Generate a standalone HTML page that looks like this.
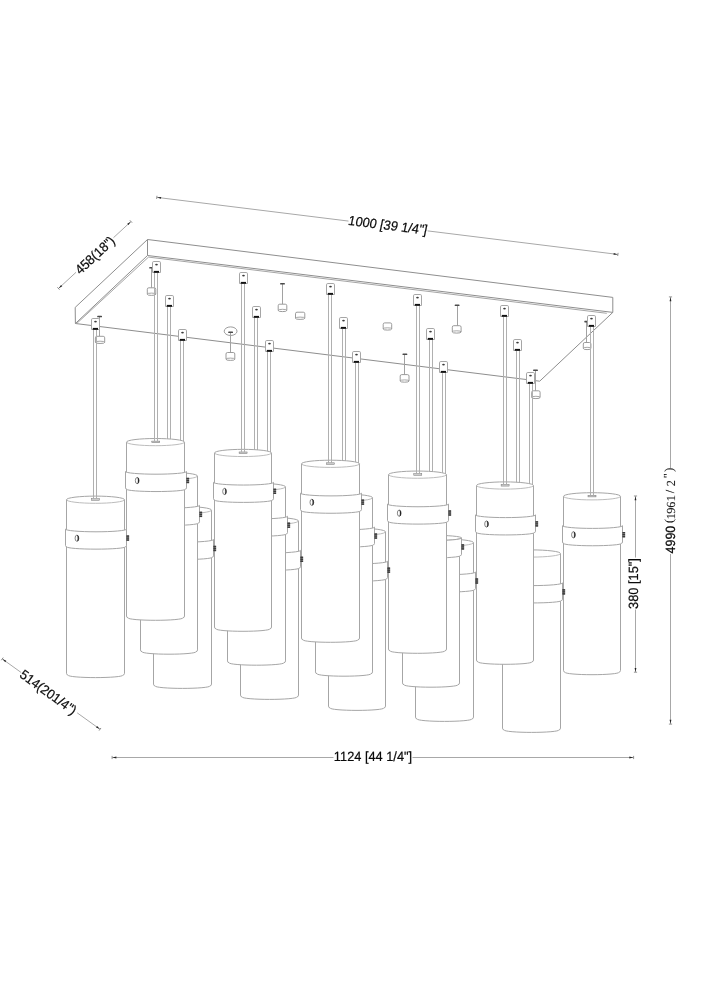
<!DOCTYPE html>
<html lang="en"><head><meta charset="utf-8"><title>Pendant chandelier dimensions</title>
<style>
html,body{margin:0;padding:0;background:#fff;}
body{width:707px;height:1000px;overflow:hidden;font-family:"Liberation Sans",sans-serif;}
svg{display:block;}
.ts{font-family:"Liberation Sans",sans-serif;}
.tf{font-family:"Liberation Serif",serif;}
text{text-rendering:geometricPrecision;}
.txt{opacity:0.999;}
</style></head><body>
<svg width="707" height="1000" viewBox="0 0 707 1000" fill="none" stroke-linecap="butt">
<rect x="0" y="0" width="707" height="1000" fill="#ffffff"/>
<path d="M147.5,239.5 L612.8,297.4 L612.8,312.4 L539.7,381.2 L75.4,323.5 L75.2,307.4 Z" fill="#fff" stroke="#8e8e8e" stroke-width="1" stroke-linejoin="round"/>
<line x1="147.50" y1="239.50" x2="147.50" y2="255.50" stroke="#8e8e8e" stroke-width="1" />
<line x1="147.50" y1="255.50" x2="612.80" y2="312.40" stroke="#8e8e8e" stroke-width="1" />
<line x1="147.50" y1="255.50" x2="75.40" y2="323.50" stroke="#8e8e8e" stroke-width="1" />
<line x1="148.50" y1="257.10" x2="606.80" y2="313.30" stroke="#8e8e8e" stroke-width="0.8" />
<line x1="148.50" y1="257.10" x2="77.00" y2="323.20" stroke="#8e8e8e" stroke-width="0.8" />
<line x1="151.50" y1="267.70" x2="151.50" y2="287.80" stroke="#a2a2a2" stroke-width="1" />
<rect x="149.20" y="266.90" width="4.8" height="1.6" rx="0.6" fill="#4a4a4a"/>
<path d="M147.30,294.25 L147.30,289.30 Q147.30,287.80 148.80,287.80 L154.30,287.80 Q155.80,287.80 155.80,289.30 L155.80,294.25 A4.25,1.15 0 0 1 147.30,294.25 Z" fill="#fff" stroke="#909090" stroke-width="0.9"/>
<path d="M147.30,294.25 A4.25,1.15 0 0 1 155.80,294.25" fill="none" stroke="#909090" stroke-width="0.8"/>
<line x1="99.50" y1="316.50" x2="99.50" y2="336.30" stroke="#a2a2a2" stroke-width="1" />
<rect x="97.20" y="315.70" width="4.8" height="1.6" rx="0.6" fill="#4a4a4a"/>
<path d="M95.40,342.35 L95.40,337.80 Q95.40,336.30 96.90,336.30 L103.20,336.30 Q104.70,336.30 104.70,337.80 L104.70,342.35 A4.65,1.15 0 0 1 95.40,342.35 Z" fill="#fff" stroke="#909090" stroke-width="0.9"/>
<path d="M95.40,342.35 A4.65,1.15 0 0 1 104.70,342.35" fill="none" stroke="#909090" stroke-width="0.8"/>
<ellipse cx="230.60" cy="331.20" rx="6.4" ry="4.3" fill="none" stroke="#909090" stroke-width="0.9"/>
<line x1="230.50" y1="332.20" x2="230.50" y2="352.50" stroke="#a2a2a2" stroke-width="1" />
<rect x="228.20" y="331.40" width="4.8" height="1.6" rx="0.6" fill="#4a4a4a"/>
<path d="M226.00,359.25 L226.00,354.00 Q226.00,352.50 227.50,352.50 L233.30,352.50 Q234.80,352.50 234.80,354.00 L234.80,359.25 A4.40,1.15 0 0 1 226.00,359.25 Z" fill="#fff" stroke="#909090" stroke-width="0.9"/>
<path d="M226.00,359.25 A4.40,1.15 0 0 1 234.80,359.25" fill="none" stroke="#909090" stroke-width="0.8"/>
<line x1="282.50" y1="283.70" x2="282.50" y2="304.20" stroke="#a2a2a2" stroke-width="1" />
<rect x="280.10" y="282.90" width="4.8" height="1.6" rx="0.6" fill="#4a4a4a"/>
<path d="M278.20,310.45 L278.20,305.70 Q278.20,304.20 279.70,304.20 L285.30,304.20 Q286.80,304.20 286.80,305.70 L286.80,310.45 A4.30,1.15 0 0 1 278.20,310.45 Z" fill="#fff" stroke="#909090" stroke-width="0.9"/>
<path d="M278.20,310.45 A4.30,1.15 0 0 1 286.80,310.45" fill="none" stroke="#909090" stroke-width="0.8"/>
<path d="M295.50,318.25 L295.50,313.70 Q295.50,312.20 297.00,312.20 L303.30,312.20 Q304.80,312.20 304.80,313.70 L304.80,318.25 A4.65,1.15 0 0 1 295.50,318.25 Z" fill="#fff" stroke="#909090" stroke-width="0.9"/>
<path d="M295.50,318.25 A4.65,1.15 0 0 1 304.80,318.25" fill="none" stroke="#909090" stroke-width="0.8"/>
<path d="M383.20,328.95 L383.20,324.40 Q383.20,322.90 384.70,322.90 L390.20,322.90 Q391.70,322.90 391.70,324.40 L391.70,328.95 A4.25,1.15 0 0 1 383.20,328.95 Z" fill="#fff" stroke="#909090" stroke-width="0.9"/>
<path d="M383.20,328.95 A4.25,1.15 0 0 1 391.70,328.95" fill="none" stroke="#909090" stroke-width="0.8"/>
<line x1="457.50" y1="305.30" x2="457.50" y2="325.70" stroke="#a2a2a2" stroke-width="1" />
<rect x="454.70" y="304.50" width="4.8" height="1.6" rx="0.6" fill="#4a4a4a"/>
<path d="M452.30,331.95 L452.30,327.20 Q452.30,325.70 453.80,325.70 L459.60,325.70 Q461.10,325.70 461.10,327.20 L461.10,331.95 A4.40,1.15 0 0 1 452.30,331.95 Z" fill="#fff" stroke="#909090" stroke-width="0.9"/>
<path d="M452.30,331.95 A4.40,1.15 0 0 1 461.10,331.95" fill="none" stroke="#909090" stroke-width="0.8"/>
<line x1="404.50" y1="354.20" x2="404.50" y2="374.60" stroke="#a2a2a2" stroke-width="1" />
<rect x="402.50" y="353.40" width="4.8" height="1.6" rx="0.6" fill="#4a4a4a"/>
<path d="M400.20,381.05 L400.20,376.10 Q400.20,374.60 401.70,374.60 L407.50,374.60 Q409.00,374.60 409.00,376.10 L409.00,381.05 A4.40,1.15 0 0 1 400.20,381.05 Z" fill="#fff" stroke="#909090" stroke-width="0.9"/>
<path d="M400.20,381.05 A4.40,1.15 0 0 1 409.00,381.05" fill="none" stroke="#909090" stroke-width="0.8"/>
<line x1="535.50" y1="370.20" x2="535.50" y2="390.80" stroke="#a2a2a2" stroke-width="1" />
<rect x="533.10" y="369.40" width="4.8" height="1.6" rx="0.6" fill="#4a4a4a"/>
<path d="M531.70,397.45 L531.70,392.30 Q531.70,390.80 533.20,390.80 L538.60,390.80 Q540.10,390.80 540.10,392.30 L540.10,397.45 A4.20,1.15 0 0 1 531.70,397.45 Z" fill="#fff" stroke="#909090" stroke-width="0.9"/>
<path d="M531.70,397.45 A4.20,1.15 0 0 1 540.10,397.45" fill="none" stroke="#909090" stroke-width="0.8"/>
<line x1="586.50" y1="321.60" x2="586.50" y2="342.50" stroke="#a2a2a2" stroke-width="1" />
<rect x="584.30" y="320.80" width="4.8" height="1.6" rx="0.6" fill="#4a4a4a"/>
<path d="M583.30,348.45 L583.30,344.00 Q583.30,342.50 584.80,342.50 L589.40,342.50 Q590.90,342.50 590.90,344.00 L590.90,348.45 A3.80,1.15 0 0 1 583.30,348.45 Z" fill="#fff" stroke="#909090" stroke-width="0.9"/>
<path d="M583.30,348.45 A3.80,1.15 0 0 1 590.90,348.45" fill="none" stroke="#909090" stroke-width="0.8"/>
<line x1="154.50" y1="272.50" x2="154.50" y2="441.50" stroke="#b0b0b0" stroke-width="1" />
<line x1="157.50" y1="272.50" x2="157.50" y2="441.50" stroke="#b0b0b0" stroke-width="1" />
<line x1="167.50" y1="306.50" x2="167.50" y2="475.40" stroke="#b0b0b0" stroke-width="1" />
<line x1="170.50" y1="306.50" x2="170.50" y2="475.40" stroke="#b0b0b0" stroke-width="1" />
<line x1="180.50" y1="340.30" x2="180.50" y2="509.50" stroke="#b0b0b0" stroke-width="1" />
<line x1="183.50" y1="340.30" x2="183.50" y2="509.50" stroke="#b0b0b0" stroke-width="1" />
<line x1="241.50" y1="283.45" x2="241.50" y2="452.35" stroke="#b0b0b0" stroke-width="1" />
<line x1="244.50" y1="283.45" x2="244.50" y2="452.35" stroke="#b0b0b0" stroke-width="1" />
<line x1="254.50" y1="317.45" x2="254.50" y2="486.25" stroke="#b0b0b0" stroke-width="1" />
<line x1="257.50" y1="317.45" x2="257.50" y2="486.25" stroke="#b0b0b0" stroke-width="1" />
<line x1="267.50" y1="351.25" x2="267.50" y2="520.35" stroke="#b0b0b0" stroke-width="1" />
<line x1="270.50" y1="351.25" x2="270.50" y2="520.35" stroke="#b0b0b0" stroke-width="1" />
<line x1="328.50" y1="294.40" x2="328.50" y2="463.20" stroke="#b0b0b0" stroke-width="1" />
<line x1="331.50" y1="294.40" x2="331.50" y2="463.20" stroke="#b0b0b0" stroke-width="1" />
<line x1="342.50" y1="328.40" x2="342.50" y2="497.10" stroke="#b0b0b0" stroke-width="1" />
<line x1="345.50" y1="328.40" x2="345.50" y2="497.10" stroke="#b0b0b0" stroke-width="1" />
<line x1="355.50" y1="362.20" x2="355.50" y2="531.20" stroke="#b0b0b0" stroke-width="1" />
<line x1="358.50" y1="362.20" x2="358.50" y2="531.20" stroke="#b0b0b0" stroke-width="1" />
<line x1="416.50" y1="305.35" x2="416.50" y2="474.05" stroke="#b0b0b0" stroke-width="1" />
<line x1="419.50" y1="305.35" x2="419.50" y2="474.05" stroke="#b0b0b0" stroke-width="1" />
<line x1="429.50" y1="339.35" x2="429.50" y2="507.95" stroke="#b0b0b0" stroke-width="1" />
<line x1="432.50" y1="339.35" x2="432.50" y2="507.95" stroke="#b0b0b0" stroke-width="1" />
<line x1="442.50" y1="373.15" x2="442.50" y2="542.05" stroke="#b0b0b0" stroke-width="1" />
<line x1="445.50" y1="373.15" x2="445.50" y2="542.05" stroke="#b0b0b0" stroke-width="1" />
<line x1="503.50" y1="316.30" x2="503.50" y2="484.90" stroke="#b0b0b0" stroke-width="1" />
<line x1="506.50" y1="316.30" x2="506.50" y2="484.90" stroke="#b0b0b0" stroke-width="1" />
<line x1="516.50" y1="350.30" x2="516.50" y2="518.80" stroke="#b0b0b0" stroke-width="1" />
<line x1="519.50" y1="350.30" x2="519.50" y2="518.80" stroke="#b0b0b0" stroke-width="1" />
<line x1="529.50" y1="384.10" x2="529.50" y2="552.90" stroke="#b0b0b0" stroke-width="1" />
<line x1="532.50" y1="384.10" x2="532.50" y2="552.90" stroke="#b0b0b0" stroke-width="1" />
<line x1="93.50" y1="329.50" x2="93.50" y2="499.10" stroke="#b0b0b0" stroke-width="1" />
<line x1="96.50" y1="329.50" x2="96.50" y2="499.10" stroke="#b0b0b0" stroke-width="1" />
<line x1="590.50" y1="326.70" x2="590.50" y2="495.70" stroke="#b0b0b0" stroke-width="1" />
<line x1="593.50" y1="326.70" x2="593.50" y2="495.70" stroke="#b0b0b0" stroke-width="1" />
<path d="M152.50,272.50 L152.50,262.80 Q152.50,261.50 153.80,261.50 L159.20,261.50 Q160.50,261.50 160.50,262.80 L160.50,272.50 Z" fill="#fff" stroke="#a6a6a6" stroke-width="1"/>
<ellipse cx="156.50" cy="264.60" rx="1.35" ry="0.95" fill="#3a3a3a"/>
<rect x="153.80" y="270.90" width="5.2" height="1.9" fill="#111"/>
<path d="M165.50,306.50 L165.50,296.80 Q165.50,295.50 166.80,295.50 L172.20,295.50 Q173.50,295.50 173.50,296.80 L173.50,306.50 Z" fill="#fff" stroke="#a6a6a6" stroke-width="1"/>
<ellipse cx="169.50" cy="298.60" rx="1.35" ry="0.95" fill="#3a3a3a"/>
<rect x="166.80" y="304.90" width="5.2" height="1.9" fill="#111"/>
<path d="M178.50,340.50 L178.50,330.80 Q178.50,329.50 179.80,329.50 L185.20,329.50 Q186.50,329.50 186.50,330.80 L186.50,340.50 Z" fill="#fff" stroke="#a6a6a6" stroke-width="1"/>
<ellipse cx="182.50" cy="332.60" rx="1.35" ry="0.95" fill="#3a3a3a"/>
<rect x="179.80" y="338.90" width="5.2" height="1.9" fill="#111"/>
<path d="M239.50,283.50 L239.50,273.80 Q239.50,272.50 240.80,272.50 L246.20,272.50 Q247.50,272.50 247.50,273.80 L247.50,283.50 Z" fill="#fff" stroke="#a6a6a6" stroke-width="1"/>
<ellipse cx="243.50" cy="275.60" rx="1.35" ry="0.95" fill="#3a3a3a"/>
<rect x="240.80" y="281.90" width="5.2" height="1.9" fill="#111"/>
<path d="M252.50,317.50 L252.50,307.80 Q252.50,306.50 253.80,306.50 L259.20,306.50 Q260.50,306.50 260.50,307.80 L260.50,317.50 Z" fill="#fff" stroke="#a6a6a6" stroke-width="1"/>
<ellipse cx="256.50" cy="309.60" rx="1.35" ry="0.95" fill="#3a3a3a"/>
<rect x="253.80" y="315.90" width="5.2" height="1.9" fill="#111"/>
<path d="M265.50,351.50 L265.50,341.80 Q265.50,340.50 266.80,340.50 L272.20,340.50 Q273.50,340.50 273.50,341.80 L273.50,351.50 Z" fill="#fff" stroke="#a6a6a6" stroke-width="1"/>
<ellipse cx="269.50" cy="343.60" rx="1.35" ry="0.95" fill="#3a3a3a"/>
<rect x="266.80" y="349.90" width="5.2" height="1.9" fill="#111"/>
<path d="M326.50,294.50 L326.50,284.80 Q326.50,283.50 327.80,283.50 L333.20,283.50 Q334.50,283.50 334.50,284.80 L334.50,294.50 Z" fill="#fff" stroke="#a6a6a6" stroke-width="1"/>
<ellipse cx="330.50" cy="286.60" rx="1.35" ry="0.95" fill="#3a3a3a"/>
<rect x="327.80" y="292.90" width="5.2" height="1.9" fill="#111"/>
<path d="M339.50,328.50 L339.50,318.80 Q339.50,317.50 340.80,317.50 L346.20,317.50 Q347.50,317.50 347.50,318.80 L347.50,328.50 Z" fill="#fff" stroke="#a6a6a6" stroke-width="1"/>
<ellipse cx="343.50" cy="320.60" rx="1.35" ry="0.95" fill="#3a3a3a"/>
<rect x="340.80" y="326.90" width="5.2" height="1.9" fill="#111"/>
<path d="M352.50,362.50 L352.50,352.80 Q352.50,351.50 353.80,351.50 L359.20,351.50 Q360.50,351.50 360.50,352.80 L360.50,362.50 Z" fill="#fff" stroke="#a6a6a6" stroke-width="1"/>
<ellipse cx="356.50" cy="354.60" rx="1.35" ry="0.95" fill="#3a3a3a"/>
<rect x="353.80" y="360.90" width="5.2" height="1.9" fill="#111"/>
<path d="M413.50,305.50 L413.50,295.80 Q413.50,294.50 414.80,294.50 L420.20,294.50 Q421.50,294.50 421.50,295.80 L421.50,305.50 Z" fill="#fff" stroke="#a6a6a6" stroke-width="1"/>
<ellipse cx="417.50" cy="297.60" rx="1.35" ry="0.95" fill="#3a3a3a"/>
<rect x="414.80" y="303.90" width="5.2" height="1.9" fill="#111"/>
<path d="M426.50,339.50 L426.50,329.80 Q426.50,328.50 427.80,328.50 L433.20,328.50 Q434.50,328.50 434.50,329.80 L434.50,339.50 Z" fill="#fff" stroke="#a6a6a6" stroke-width="1"/>
<ellipse cx="430.50" cy="331.60" rx="1.35" ry="0.95" fill="#3a3a3a"/>
<rect x="427.80" y="337.90" width="5.2" height="1.9" fill="#111"/>
<path d="M439.50,372.50 L439.50,362.80 Q439.50,361.50 440.80,361.50 L446.20,361.50 Q447.50,361.50 447.50,362.80 L447.50,372.50 Z" fill="#fff" stroke="#a6a6a6" stroke-width="1"/>
<ellipse cx="443.50" cy="364.60" rx="1.35" ry="0.95" fill="#3a3a3a"/>
<rect x="440.80" y="370.90" width="5.2" height="1.9" fill="#111"/>
<path d="M500.50,316.50 L500.50,306.80 Q500.50,305.50 501.80,305.50 L507.20,305.50 Q508.50,305.50 508.50,306.80 L508.50,316.50 Z" fill="#fff" stroke="#a6a6a6" stroke-width="1"/>
<ellipse cx="504.50" cy="308.60" rx="1.35" ry="0.95" fill="#3a3a3a"/>
<rect x="501.80" y="314.90" width="5.2" height="1.9" fill="#111"/>
<path d="M513.50,350.50 L513.50,340.80 Q513.50,339.50 514.80,339.50 L520.20,339.50 Q521.50,339.50 521.50,340.80 L521.50,350.50 Z" fill="#fff" stroke="#a6a6a6" stroke-width="1"/>
<ellipse cx="517.50" cy="342.60" rx="1.35" ry="0.95" fill="#3a3a3a"/>
<rect x="514.80" y="348.90" width="5.2" height="1.9" fill="#111"/>
<path d="M526.50,383.50 L526.50,373.80 Q526.50,372.50 527.80,372.50 L533.20,372.50 Q534.50,372.50 534.50,373.80 L534.50,383.50 Z" fill="#fff" stroke="#a6a6a6" stroke-width="1"/>
<ellipse cx="530.50" cy="375.60" rx="1.35" ry="0.95" fill="#3a3a3a"/>
<rect x="527.80" y="381.90" width="5.2" height="1.9" fill="#111"/>
<path d="M91.50,329.50 L91.50,319.80 Q91.50,318.50 92.80,318.50 L98.20,318.50 Q99.50,318.50 99.50,319.80 L99.50,329.50 Z" fill="#fff" stroke="#a6a6a6" stroke-width="1"/>
<ellipse cx="95.50" cy="321.60" rx="1.35" ry="0.95" fill="#3a3a3a"/>
<rect x="92.80" y="327.90" width="5.2" height="1.9" fill="#111"/>
<path d="M587.50,326.50 L587.50,316.80 Q587.50,315.50 588.80,315.50 L594.20,315.50 Q595.50,315.50 595.50,316.80 L595.50,326.50 Z" fill="#fff" stroke="#a6a6a6" stroke-width="1"/>
<ellipse cx="591.50" cy="318.60" rx="1.35" ry="0.95" fill="#3a3a3a"/>
<rect x="588.80" y="324.90" width="5.2" height="1.9" fill="#111"/>
<path d="M563.50,496.30 A28.50,3.6 0 0 1 620.50,496.30 L620.50,670.40 Q620.50,672.00 618.90,672.30 A26.90,2.4 0 0 1 565.10,672.30 Q563.50,672.00 563.50,670.40 Z" fill="#fff" stroke="#a6a6a6" stroke-width="1"/>
<path d="M563.50,496.30 A28.50,3.6 0 0 0 620.50,496.30" fill="none" stroke="#b4b4b4" stroke-width="0.9"/>
<rect x="588.00" y="495.30" width="8" height="1.6" fill="#ccc" stroke="#777" stroke-width="0.5"/>
<path d="M562.50,525.70 A30.00,2.7 0 0 0 622.50,525.70 L622.50,542.10 Q622.50,543.30 621.20,543.45 A28.70,2.3 0 0 1 563.80,543.45 Q562.50,543.30 562.50,542.10 Z" fill="#fff" stroke="#a6a6a6" stroke-width="1"/>
<ellipse cx="573.40" cy="534.80" rx="1.8" ry="3.1" fill="#fff" stroke="#555" stroke-width="0.7"/>
<path d="M573.60,531.80 A1.7,3.0 0 0 1 573.60,537.80 A0.7,3.0 0 0 0 573.60,531.80 Z" fill="#222" stroke="#222" stroke-width="0.3"/>
<rect x="622.50" y="532.00" width="2.6" height="1.45" fill="#1c1c1c"/>
<rect x="622.50" y="533.95" width="2.6" height="1.45" fill="#1c1c1c"/>
<rect x="622.50" y="535.90" width="2.6" height="1.45" fill="#1c1c1c"/>
<rect x="622.50" y="532.00" width="2.6" height="5.35" fill="#555" fill-opacity="0.55"/>
<line x1="590.50" y1="492.20" x2="590.50" y2="495.50" stroke="#b0b0b0" stroke-width="1" />
<line x1="593.50" y1="492.20" x2="593.50" y2="495.50" stroke="#b0b0b0" stroke-width="1" />
<path d="M502.50,553.50 A29.00,3.6 0 0 1 560.50,553.50 L560.50,728.10 Q560.50,729.70 558.90,730.00 A27.40,2.4 0 0 1 504.10,730.00 Q502.50,729.70 502.50,728.10 Z" fill="#fff" stroke="#a6a6a6" stroke-width="1"/>
<path d="M502.50,553.50 A29.00,3.6 0 0 0 560.50,553.50" fill="none" stroke="#b4b4b4" stroke-width="0.9"/>
<path d="M501.50,582.90 A30.50,2.7 0 0 0 562.50,582.90 L562.50,599.30 Q562.50,600.50 561.20,600.65 A29.20,2.3 0 0 1 502.80,600.65 Q501.50,600.50 501.50,599.30 Z" fill="#fff" stroke="#a6a6a6" stroke-width="1"/>
<ellipse cx="513.01" cy="592.00" rx="1.8" ry="3.1" fill="#fff" stroke="#555" stroke-width="0.7"/>
<path d="M513.21,589.00 A1.7,3.0 0 0 1 513.21,595.00 A0.7,3.0 0 0 0 513.21,589.00 Z" fill="#222" stroke="#222" stroke-width="0.3"/>
<rect x="562.50" y="589.20" width="2.6" height="1.45" fill="#1c1c1c"/>
<rect x="562.50" y="591.15" width="2.6" height="1.45" fill="#1c1c1c"/>
<rect x="562.50" y="593.10" width="2.6" height="1.45" fill="#1c1c1c"/>
<rect x="562.50" y="589.20" width="2.6" height="5.35" fill="#555" fill-opacity="0.55"/>
<path d="M476.50,485.50 A28.50,3.6 0 0 1 533.50,485.50 L533.50,660.00 Q533.50,661.60 531.90,661.90 A26.90,2.4 0 0 1 478.10,661.90 Q476.50,661.60 476.50,660.00 Z" fill="#fff" stroke="#a6a6a6" stroke-width="1"/>
<path d="M476.50,485.50 A28.50,3.6 0 0 0 533.50,485.50" fill="none" stroke="#b4b4b4" stroke-width="0.9"/>
<rect x="501.11" y="484.50" width="8" height="1.6" fill="#ccc" stroke="#777" stroke-width="0.5"/>
<path d="M475.50,514.90 A30.00,2.7 0 0 0 535.50,514.90 L535.50,531.30 Q535.50,532.50 534.20,532.65 A28.70,2.3 0 0 1 476.80,532.65 Q475.50,532.50 475.50,531.30 Z" fill="#fff" stroke="#a6a6a6" stroke-width="1"/>
<ellipse cx="486.51" cy="524.00" rx="1.8" ry="3.1" fill="#fff" stroke="#555" stroke-width="0.7"/>
<path d="M486.71,521.00 A1.7,3.0 0 0 1 486.71,527.00 A0.7,3.0 0 0 0 486.71,521.00 Z" fill="#222" stroke="#222" stroke-width="0.3"/>
<rect x="535.50" y="521.20" width="2.6" height="1.45" fill="#1c1c1c"/>
<rect x="535.50" y="523.15" width="2.6" height="1.45" fill="#1c1c1c"/>
<rect x="535.50" y="525.10" width="2.6" height="1.45" fill="#1c1c1c"/>
<rect x="535.50" y="521.20" width="2.6" height="5.35" fill="#555" fill-opacity="0.55"/>
<line x1="503.50" y1="481.40" x2="503.50" y2="484.70" stroke="#b0b0b0" stroke-width="1" />
<line x1="506.50" y1="481.40" x2="506.50" y2="484.70" stroke="#b0b0b0" stroke-width="1" />
<path d="M415.50,542.65 A29.00,3.6 0 0 1 473.50,542.65 L473.50,717.10 Q473.50,718.70 471.90,719.00 A27.40,2.4 0 0 1 417.10,719.00 Q415.50,718.70 415.50,717.10 Z" fill="#fff" stroke="#a6a6a6" stroke-width="1"/>
<path d="M415.50,542.65 A29.00,3.6 0 0 0 473.50,542.65" fill="none" stroke="#b4b4b4" stroke-width="0.9"/>
<path d="M414.50,572.05 A30.50,2.7 0 0 0 475.50,572.05 L475.50,588.45 Q475.50,589.65 474.20,589.80 A29.20,2.3 0 0 1 415.80,589.80 Q414.50,589.65 414.50,588.45 Z" fill="#fff" stroke="#a6a6a6" stroke-width="1"/>
<ellipse cx="425.67" cy="581.15" rx="1.8" ry="3.1" fill="#fff" stroke="#555" stroke-width="0.7"/>
<path d="M425.87,578.15 A1.7,3.0 0 0 1 425.87,584.15 A0.7,3.0 0 0 0 425.87,578.15 Z" fill="#222" stroke="#222" stroke-width="0.3"/>
<rect x="475.50" y="578.35" width="2.6" height="1.45" fill="#1c1c1c"/>
<rect x="475.50" y="580.30" width="2.6" height="1.45" fill="#1c1c1c"/>
<rect x="475.50" y="582.25" width="2.6" height="1.45" fill="#1c1c1c"/>
<rect x="475.50" y="578.35" width="2.6" height="5.35" fill="#555" fill-opacity="0.55"/>
<path d="M402.50,541.95 L459.50,541.95 L459.50,682.90 Q459.50,684.50 457.90,684.80 A26.90,2.4 0 0 1 404.10,684.80 Q402.50,684.50 402.50,682.90 Z" fill="#fff" stroke="none"/>
<path d="M459.50,541.95 L459.50,682.90 Q459.50,684.50 457.90,684.80 A26.90,2.4 0 0 1 404.10,684.80 Q402.50,684.50 402.50,682.90 L402.50,541.95" fill="none" stroke="#a6a6a6" stroke-width="1"/>
<ellipse cx="431.50" cy="537.95" rx="30.00" ry="2.7" fill="#fff" stroke="#a6a6a6" stroke-width="1"/>
<path d="M401.50,537.95 A30.00,2.7 0 0 0 461.50,537.95 L461.50,554.35 Q461.50,555.55 460.20,555.70 A28.70,2.3 0 0 1 402.80,555.70 Q401.50,555.55 401.50,554.35 Z" fill="#fff" stroke="#a6a6a6" stroke-width="1"/>
<ellipse cx="412.57" cy="547.05" rx="1.8" ry="3.1" fill="#fff" stroke="#555" stroke-width="0.7"/>
<path d="M412.77,544.05 A1.7,3.0 0 0 1 412.77,550.05 A0.7,3.0 0 0 0 412.77,544.05 Z" fill="#222" stroke="#222" stroke-width="0.3"/>
<rect x="461.50" y="544.25" width="2.6" height="1.45" fill="#1c1c1c"/>
<rect x="461.50" y="546.20" width="2.6" height="1.45" fill="#1c1c1c"/>
<rect x="461.50" y="548.15" width="2.6" height="1.45" fill="#1c1c1c"/>
<rect x="461.50" y="544.25" width="2.6" height="5.35" fill="#555" fill-opacity="0.55"/>
<path d="M388.50,474.65 A29.00,3.6 0 0 1 446.50,474.65 L446.50,649.00 Q446.50,650.60 444.90,650.90 A27.40,2.4 0 0 1 390.10,650.90 Q388.50,650.60 388.50,649.00 Z" fill="#fff" stroke="#a6a6a6" stroke-width="1"/>
<path d="M388.50,474.65 A29.00,3.6 0 0 0 446.50,474.65" fill="none" stroke="#b4b4b4" stroke-width="0.9"/>
<rect x="413.77" y="473.65" width="8" height="1.6" fill="#ccc" stroke="#777" stroke-width="0.5"/>
<path d="M387.50,504.05 A30.50,2.7 0 0 0 448.50,504.05 L448.50,520.45 Q448.50,521.65 447.20,521.80 A29.20,2.3 0 0 1 388.80,521.80 Q387.50,521.65 387.50,520.45 Z" fill="#fff" stroke="#a6a6a6" stroke-width="1"/>
<ellipse cx="399.17" cy="513.15" rx="1.8" ry="3.1" fill="#fff" stroke="#555" stroke-width="0.7"/>
<path d="M399.37,510.15 A1.7,3.0 0 0 1 399.37,516.15 A0.7,3.0 0 0 0 399.37,510.15 Z" fill="#222" stroke="#222" stroke-width="0.3"/>
<rect x="448.50" y="510.35" width="2.6" height="1.45" fill="#1c1c1c"/>
<rect x="448.50" y="512.30" width="2.6" height="1.45" fill="#1c1c1c"/>
<rect x="448.50" y="514.25" width="2.6" height="1.45" fill="#1c1c1c"/>
<rect x="448.50" y="510.35" width="2.6" height="5.35" fill="#555" fill-opacity="0.55"/>
<line x1="416.50" y1="470.55" x2="416.50" y2="473.85" stroke="#b0b0b0" stroke-width="1" />
<line x1="419.50" y1="470.55" x2="419.50" y2="473.85" stroke="#b0b0b0" stroke-width="1" />
<path d="M328.50,531.80 A28.50,3.6 0 0 1 385.50,531.80 L385.50,706.10 Q385.50,707.70 383.90,708.00 A26.90,2.4 0 0 1 330.10,708.00 Q328.50,707.70 328.50,706.10 Z" fill="#fff" stroke="#a6a6a6" stroke-width="1"/>
<path d="M328.50,531.80 A28.50,3.6 0 0 0 385.50,531.80" fill="none" stroke="#b4b4b4" stroke-width="0.9"/>
<path d="M327.50,561.20 A30.00,2.7 0 0 0 387.50,561.20 L387.50,577.60 Q387.50,578.80 386.20,578.95 A28.70,2.3 0 0 1 328.80,578.95 Q327.50,578.80 327.50,577.60 Z" fill="#fff" stroke="#a6a6a6" stroke-width="1"/>
<ellipse cx="338.33" cy="570.30" rx="1.8" ry="3.1" fill="#fff" stroke="#555" stroke-width="0.7"/>
<path d="M338.53,567.30 A1.7,3.0 0 0 1 338.53,573.30 A0.7,3.0 0 0 0 338.53,567.30 Z" fill="#222" stroke="#222" stroke-width="0.3"/>
<rect x="387.50" y="567.50" width="2.6" height="1.45" fill="#1c1c1c"/>
<rect x="387.50" y="569.45" width="2.6" height="1.45" fill="#1c1c1c"/>
<rect x="387.50" y="571.40" width="2.6" height="1.45" fill="#1c1c1c"/>
<rect x="387.50" y="567.50" width="2.6" height="5.35" fill="#555" fill-opacity="0.55"/>
<path d="M315.50,497.70 A28.50,3.6 0 0 1 372.50,497.70 L372.50,671.90 Q372.50,673.50 370.90,673.80 A26.90,2.4 0 0 1 317.10,673.80 Q315.50,673.50 315.50,671.90 Z" fill="#fff" stroke="#a6a6a6" stroke-width="1"/>
<path d="M315.50,497.70 A28.50,3.6 0 0 0 372.50,497.70" fill="none" stroke="#b4b4b4" stroke-width="0.9"/>
<path d="M314.50,527.10 A30.00,2.7 0 0 0 374.50,527.10 L374.50,543.50 Q374.50,544.70 373.20,544.85 A28.70,2.3 0 0 1 315.80,544.85 Q314.50,544.70 314.50,543.50 Z" fill="#fff" stroke="#a6a6a6" stroke-width="1"/>
<ellipse cx="325.23" cy="536.20" rx="1.8" ry="3.1" fill="#fff" stroke="#555" stroke-width="0.7"/>
<path d="M325.43,533.20 A1.7,3.0 0 0 1 325.43,539.20 A0.7,3.0 0 0 0 325.43,533.20 Z" fill="#222" stroke="#222" stroke-width="0.3"/>
<rect x="374.50" y="533.40" width="2.6" height="1.45" fill="#1c1c1c"/>
<rect x="374.50" y="535.35" width="2.6" height="1.45" fill="#1c1c1c"/>
<rect x="374.50" y="537.30" width="2.6" height="1.45" fill="#1c1c1c"/>
<rect x="374.50" y="533.40" width="2.6" height="5.35" fill="#555" fill-opacity="0.55"/>
<path d="M301.50,463.80 A29.00,3.6 0 0 1 359.50,463.80 L359.50,638.00 Q359.50,639.60 357.90,639.90 A27.40,2.4 0 0 1 303.10,639.90 Q301.50,639.60 301.50,638.00 Z" fill="#fff" stroke="#a6a6a6" stroke-width="1"/>
<path d="M301.50,463.80 A29.00,3.6 0 0 0 359.50,463.80" fill="none" stroke="#b4b4b4" stroke-width="0.9"/>
<rect x="326.43" y="462.80" width="8" height="1.6" fill="#ccc" stroke="#777" stroke-width="0.5"/>
<path d="M300.50,493.20 A30.50,2.7 0 0 0 361.50,493.20 L361.50,509.60 Q361.50,510.80 360.20,510.95 A29.20,2.3 0 0 1 301.80,510.95 Q300.50,510.80 300.50,509.60 Z" fill="#fff" stroke="#a6a6a6" stroke-width="1"/>
<ellipse cx="311.83" cy="502.30" rx="1.8" ry="3.1" fill="#fff" stroke="#555" stroke-width="0.7"/>
<path d="M312.03,499.30 A1.7,3.0 0 0 1 312.03,505.30 A0.7,3.0 0 0 0 312.03,499.30 Z" fill="#222" stroke="#222" stroke-width="0.3"/>
<rect x="361.50" y="499.50" width="2.6" height="1.45" fill="#1c1c1c"/>
<rect x="361.50" y="501.45" width="2.6" height="1.45" fill="#1c1c1c"/>
<rect x="361.50" y="503.40" width="2.6" height="1.45" fill="#1c1c1c"/>
<rect x="361.50" y="499.50" width="2.6" height="5.35" fill="#555" fill-opacity="0.55"/>
<line x1="328.50" y1="459.70" x2="328.50" y2="463.00" stroke="#b0b0b0" stroke-width="1" />
<line x1="331.50" y1="459.70" x2="331.50" y2="463.00" stroke="#b0b0b0" stroke-width="1" />
<path d="M240.50,520.95 A29.00,3.6 0 0 1 298.50,520.95 L298.50,695.10 Q298.50,696.70 296.90,697.00 A27.40,2.4 0 0 1 242.10,697.00 Q240.50,696.70 240.50,695.10 Z" fill="#fff" stroke="#a6a6a6" stroke-width="1"/>
<path d="M240.50,520.95 A29.00,3.6 0 0 0 298.50,520.95" fill="none" stroke="#b4b4b4" stroke-width="0.9"/>
<path d="M239.50,550.35 A30.50,2.7 0 0 0 300.50,550.35 L300.50,566.75 Q300.50,567.95 299.20,568.10 A29.20,2.3 0 0 1 240.80,568.10 Q239.50,567.95 239.50,566.75 Z" fill="#fff" stroke="#a6a6a6" stroke-width="1"/>
<ellipse cx="250.99" cy="559.45" rx="1.8" ry="3.1" fill="#fff" stroke="#555" stroke-width="0.7"/>
<path d="M251.19,556.45 A1.7,3.0 0 0 1 251.19,562.45 A0.7,3.0 0 0 0 251.19,556.45 Z" fill="#222" stroke="#222" stroke-width="0.3"/>
<rect x="300.50" y="556.65" width="2.6" height="1.45" fill="#1c1c1c"/>
<rect x="300.50" y="558.60" width="2.6" height="1.45" fill="#1c1c1c"/>
<rect x="300.50" y="560.55" width="2.6" height="1.45" fill="#1c1c1c"/>
<rect x="300.50" y="556.65" width="2.6" height="5.35" fill="#555" fill-opacity="0.55"/>
<path d="M227.50,486.85 A29.00,3.6 0 0 1 285.50,486.85 L285.50,660.90 Q285.50,662.50 283.90,662.80 A27.40,2.4 0 0 1 229.10,662.80 Q227.50,662.50 227.50,660.90 Z" fill="#fff" stroke="#a6a6a6" stroke-width="1"/>
<path d="M227.50,486.85 A29.00,3.6 0 0 0 285.50,486.85" fill="none" stroke="#b4b4b4" stroke-width="0.9"/>
<path d="M226.50,516.25 A30.50,2.7 0 0 0 287.50,516.25 L287.50,532.65 Q287.50,533.85 286.20,534.00 A29.20,2.3 0 0 1 227.80,534.00 Q226.50,533.85 226.50,532.65 Z" fill="#fff" stroke="#a6a6a6" stroke-width="1"/>
<ellipse cx="237.89" cy="525.35" rx="1.8" ry="3.1" fill="#fff" stroke="#555" stroke-width="0.7"/>
<path d="M238.09,522.35 A1.7,3.0 0 0 1 238.09,528.35 A0.7,3.0 0 0 0 238.09,522.35 Z" fill="#222" stroke="#222" stroke-width="0.3"/>
<rect x="287.50" y="522.55" width="2.6" height="1.45" fill="#1c1c1c"/>
<rect x="287.50" y="524.50" width="2.6" height="1.45" fill="#1c1c1c"/>
<rect x="287.50" y="526.45" width="2.6" height="1.45" fill="#1c1c1c"/>
<rect x="287.50" y="522.55" width="2.6" height="5.35" fill="#555" fill-opacity="0.55"/>
<path d="M214.50,452.95 A28.50,3.6 0 0 1 271.50,452.95 L271.50,627.00 Q271.50,628.60 269.90,628.90 A26.90,2.4 0 0 1 216.10,628.90 Q214.50,628.60 214.50,627.00 Z" fill="#fff" stroke="#a6a6a6" stroke-width="1"/>
<path d="M214.50,452.95 A28.50,3.6 0 0 0 271.50,452.95" fill="none" stroke="#b4b4b4" stroke-width="0.9"/>
<rect x="239.09" y="451.95" width="8" height="1.6" fill="#ccc" stroke="#777" stroke-width="0.5"/>
<path d="M213.50,482.35 A30.00,2.7 0 0 0 273.50,482.35 L273.50,498.75 Q273.50,499.95 272.20,500.10 A28.70,2.3 0 0 1 214.80,500.10 Q213.50,499.95 213.50,498.75 Z" fill="#fff" stroke="#a6a6a6" stroke-width="1"/>
<ellipse cx="224.49" cy="491.45" rx="1.8" ry="3.1" fill="#fff" stroke="#555" stroke-width="0.7"/>
<path d="M224.69,488.45 A1.7,3.0 0 0 1 224.69,494.45 A0.7,3.0 0 0 0 224.69,488.45 Z" fill="#222" stroke="#222" stroke-width="0.3"/>
<rect x="273.50" y="488.65" width="2.6" height="1.45" fill="#1c1c1c"/>
<rect x="273.50" y="490.60" width="2.6" height="1.45" fill="#1c1c1c"/>
<rect x="273.50" y="492.55" width="2.6" height="1.45" fill="#1c1c1c"/>
<rect x="273.50" y="488.65" width="2.6" height="5.35" fill="#555" fill-opacity="0.55"/>
<line x1="241.50" y1="448.85" x2="241.50" y2="452.15" stroke="#b0b0b0" stroke-width="1" />
<line x1="244.50" y1="448.85" x2="244.50" y2="452.15" stroke="#b0b0b0" stroke-width="1" />
<path d="M153.50,510.10 A29.00,3.6 0 0 1 211.50,510.10 L211.50,684.10 Q211.50,685.70 209.90,686.00 A27.40,2.4 0 0 1 155.10,686.00 Q153.50,685.70 153.50,684.10 Z" fill="#fff" stroke="#a6a6a6" stroke-width="1"/>
<path d="M153.50,510.10 A29.00,3.6 0 0 0 211.50,510.10" fill="none" stroke="#b4b4b4" stroke-width="0.9"/>
<path d="M152.50,539.50 A30.50,2.7 0 0 0 213.50,539.50 L213.50,555.90 Q213.50,557.10 212.20,557.25 A29.20,2.3 0 0 1 153.80,557.25 Q152.50,557.10 152.50,555.90 Z" fill="#fff" stroke="#a6a6a6" stroke-width="1"/>
<ellipse cx="163.65" cy="548.60" rx="1.8" ry="3.1" fill="#fff" stroke="#555" stroke-width="0.7"/>
<path d="M163.85,545.60 A1.7,3.0 0 0 1 163.85,551.60 A0.7,3.0 0 0 0 163.85,545.60 Z" fill="#222" stroke="#222" stroke-width="0.3"/>
<rect x="213.50" y="545.80" width="2.6" height="1.45" fill="#1c1c1c"/>
<rect x="213.50" y="547.75" width="2.6" height="1.45" fill="#1c1c1c"/>
<rect x="213.50" y="549.70" width="2.6" height="1.45" fill="#1c1c1c"/>
<rect x="213.50" y="545.80" width="2.6" height="5.35" fill="#555" fill-opacity="0.55"/>
<path d="M140.50,476.00 A28.50,3.6 0 0 1 197.50,476.00 L197.50,649.90 Q197.50,651.50 195.90,651.80 A26.90,2.4 0 0 1 142.10,651.80 Q140.50,651.50 140.50,649.90 Z" fill="#fff" stroke="#a6a6a6" stroke-width="1"/>
<path d="M140.50,476.00 A28.50,3.6 0 0 0 197.50,476.00" fill="none" stroke="#b4b4b4" stroke-width="0.9"/>
<path d="M139.50,505.40 A30.00,2.7 0 0 0 199.50,505.40 L199.50,521.80 Q199.50,523.00 198.20,523.15 A28.70,2.3 0 0 1 140.80,523.15 Q139.50,523.00 139.50,521.80 Z" fill="#fff" stroke="#a6a6a6" stroke-width="1"/>
<ellipse cx="150.55" cy="514.50" rx="1.8" ry="3.1" fill="#fff" stroke="#555" stroke-width="0.7"/>
<path d="M150.75,511.50 A1.7,3.0 0 0 1 150.75,517.50 A0.7,3.0 0 0 0 150.75,511.50 Z" fill="#222" stroke="#222" stroke-width="0.3"/>
<rect x="199.50" y="511.70" width="2.6" height="1.45" fill="#1c1c1c"/>
<rect x="199.50" y="513.65" width="2.6" height="1.45" fill="#1c1c1c"/>
<rect x="199.50" y="515.60" width="2.6" height="1.45" fill="#1c1c1c"/>
<rect x="199.50" y="511.70" width="2.6" height="5.35" fill="#555" fill-opacity="0.55"/>
<path d="M126.50,442.10 A29.00,3.6 0 0 1 184.50,442.10 L184.50,616.00 Q184.50,617.60 182.90,617.90 A27.40,2.4 0 0 1 128.10,617.90 Q126.50,617.60 126.50,616.00 Z" fill="#fff" stroke="#a6a6a6" stroke-width="1"/>
<path d="M126.50,442.10 A29.00,3.6 0 0 0 184.50,442.10" fill="none" stroke="#b4b4b4" stroke-width="0.9"/>
<rect x="151.75" y="441.10" width="8" height="1.6" fill="#ccc" stroke="#777" stroke-width="0.5"/>
<path d="M125.50,471.50 A30.50,2.7 0 0 0 186.50,471.50 L186.50,487.90 Q186.50,489.10 185.20,489.25 A29.20,2.3 0 0 1 126.80,489.25 Q125.50,489.10 125.50,487.90 Z" fill="#fff" stroke="#a6a6a6" stroke-width="1"/>
<ellipse cx="137.15" cy="480.60" rx="1.8" ry="3.1" fill="#fff" stroke="#555" stroke-width="0.7"/>
<path d="M137.35,477.60 A1.7,3.0 0 0 1 137.35,483.60 A0.7,3.0 0 0 0 137.35,477.60 Z" fill="#222" stroke="#222" stroke-width="0.3"/>
<rect x="186.50" y="477.80" width="2.6" height="1.45" fill="#1c1c1c"/>
<rect x="186.50" y="479.75" width="2.6" height="1.45" fill="#1c1c1c"/>
<rect x="186.50" y="481.70" width="2.6" height="1.45" fill="#1c1c1c"/>
<rect x="186.50" y="477.80" width="2.6" height="5.35" fill="#555" fill-opacity="0.55"/>
<line x1="154.50" y1="438.00" x2="154.50" y2="441.30" stroke="#b0b0b0" stroke-width="1" />
<line x1="157.50" y1="438.00" x2="157.50" y2="441.30" stroke="#b0b0b0" stroke-width="1" />
<path d="M66.50,499.70 A29.00,3.6 0 0 1 124.50,499.70 L124.50,673.30 Q124.50,674.90 122.90,675.20 A27.40,2.4 0 0 1 68.10,675.20 Q66.50,674.90 66.50,673.30 Z" fill="#fff" stroke="#a6a6a6" stroke-width="1"/>
<path d="M66.50,499.70 A29.00,3.6 0 0 0 124.50,499.70" fill="none" stroke="#b4b4b4" stroke-width="0.9"/>
<rect x="91.50" y="498.70" width="8" height="1.6" fill="#ccc" stroke="#777" stroke-width="0.5"/>
<path d="M65.50,529.10 A30.50,2.7 0 0 0 126.50,529.10 L126.50,545.50 Q126.50,546.70 125.20,546.85 A29.20,2.3 0 0 1 66.80,546.85 Q65.50,546.70 65.50,545.50 Z" fill="#fff" stroke="#a6a6a6" stroke-width="1"/>
<ellipse cx="76.90" cy="538.20" rx="1.8" ry="3.1" fill="#fff" stroke="#555" stroke-width="0.7"/>
<path d="M77.10,535.20 A1.7,3.0 0 0 1 77.10,541.20 A0.7,3.0 0 0 0 77.10,535.20 Z" fill="#222" stroke="#222" stroke-width="0.3"/>
<rect x="126.50" y="535.40" width="2.6" height="1.45" fill="#1c1c1c"/>
<rect x="126.50" y="537.35" width="2.6" height="1.45" fill="#1c1c1c"/>
<rect x="126.50" y="539.30" width="2.6" height="1.45" fill="#1c1c1c"/>
<rect x="126.50" y="535.40" width="2.6" height="5.35" fill="#555" fill-opacity="0.55"/>
<line x1="93.50" y1="495.60" x2="93.50" y2="498.90" stroke="#b0b0b0" stroke-width="1" />
<line x1="96.50" y1="495.60" x2="96.50" y2="498.90" stroke="#b0b0b0" stroke-width="1" />
<g class="txt">
<line x1="112.40" y1="757.50" x2="333.50" y2="757.50" stroke="#a8a8a8" stroke-width="1" />
<line x1="412.50" y1="757.50" x2="633.30" y2="757.50" stroke="#a8a8a8" stroke-width="1" />
<g transform="translate(112.40,757.50) rotate(180.00)"><path d="M0,0 L-4,-0.9 L-4,0.9 Z" fill="#222"/><line x1="0.3" y1="-1.6" x2="0.3" y2="1.6" stroke="#666" stroke-width="0.7"/></g>
<g transform="translate(633.30,757.50) rotate(0.00)"><path d="M0,0 L-4,-0.9 L-4,0.9 Z" fill="#222"/><line x1="0.3" y1="-1.6" x2="0.3" y2="1.6" stroke="#666" stroke-width="0.7"/></g>
<text transform="translate(373.00,755.85) rotate(0.00) scale(0.955,1)" x="0" y="4.80" text-anchor="middle" class="ts" font-size="13.4" fill="#0a0a0a" stroke="#0a0a0a" stroke-width="0.22">1124 [44 1/4&quot;]</text>
<line x1="157.10" y1="197.40" x2="348.50" y2="221.09" stroke="#a8a8a8" stroke-width="1" />
<line x1="427.60" y1="230.88" x2="617.60" y2="254.40" stroke="#a8a8a8" stroke-width="1" />
<g transform="translate(157.10,197.40) rotate(187.06)"><path d="M0,0 L-4,-0.9 L-4,0.9 Z" fill="#222"/><line x1="0.3" y1="-1.6" x2="0.3" y2="1.6" stroke="#666" stroke-width="0.7"/></g>
<g transform="translate(617.60,254.40) rotate(7.06)"><path d="M0,0 L-4,-0.9 L-4,0.9 Z" fill="#222"/><line x1="0.3" y1="-1.6" x2="0.3" y2="1.6" stroke="#666" stroke-width="0.7"/></g>
<text transform="translate(387.90,224.97) rotate(7.06) skewX(-5) scale(0.955,1)" x="0" y="4.80" text-anchor="middle" class="ts" font-size="13.4" fill="#0a0a0a" stroke="#0a0a0a" stroke-width="0.22">1000 [39 1/4&quot;]</text>
<line x1="58.70" y1="288.30" x2="76.02" y2="272.30" stroke="#a8a8a8" stroke-width="1" />
<line x1="113.48" y1="237.70" x2="130.80" y2="221.70" stroke="#a8a8a8" stroke-width="1" />
<g transform="translate(58.70,288.30) rotate(137.27)"><path d="M0,0 L-4,-0.9 L-4,0.9 Z" fill="#222"/><line x1="0.3" y1="-1.6" x2="0.3" y2="1.6" stroke="#666" stroke-width="0.7"/></g>
<g transform="translate(130.80,221.70) rotate(-42.73)"><path d="M0,0 L-4,-0.9 L-4,0.9 Z" fill="#222"/><line x1="0.3" y1="-1.6" x2="0.3" y2="1.6" stroke="#666" stroke-width="0.7"/></g>
<text transform="translate(94.75,255.00) rotate(-42.73) scale(0.955,1)" x="0" y="4.80" text-anchor="middle" class="ts" font-size="13.4" fill="#0a0a0a" stroke="#0a0a0a" stroke-width="0.22">458(18&quot;)</text>
<line x1="2.50" y1="659.10" x2="21.17" y2="672.53" stroke="#a8a8a8" stroke-width="1" />
<line x1="77.18" y1="712.83" x2="99.80" y2="729.10" stroke="#a8a8a8" stroke-width="1" />
<g transform="translate(2.50,659.10) rotate(215.73)"><path d="M0,0 L-4,-0.9 L-4,0.9 Z" fill="#222"/><line x1="0.3" y1="-1.6" x2="0.3" y2="1.6" stroke="#666" stroke-width="0.7"/></g>
<g transform="translate(99.80,729.10) rotate(35.73)"><path d="M0,0 L-4,-0.9 L-4,0.9 Z" fill="#222"/><line x1="0.3" y1="-1.6" x2="0.3" y2="1.6" stroke="#666" stroke-width="0.7"/></g>
<text transform="translate(48.40,692.10) rotate(35.73) scale(0.955,1)" x="0" y="4.80" text-anchor="middle" class="ts" font-size="13.4" fill="#0a0a0a" stroke="#0a0a0a" stroke-width="0.22">514(201/4&quot;)</text>
<line x1="635.50" y1="496.30" x2="635.50" y2="557.50" stroke="#a8a8a8" stroke-width="1" />
<line x1="635.50" y1="609.50" x2="635.50" y2="671.90" stroke="#a8a8a8" stroke-width="1" />
<g transform="translate(635.50,496.30) rotate(-90.00)"><path d="M0,0 L-4,-0.9 L-4,0.9 Z" fill="#222"/><line x1="0.3" y1="-1.6" x2="0.3" y2="1.6" stroke="#666" stroke-width="0.7"/></g>
<g transform="translate(635.50,671.90) rotate(90.00)"><path d="M0,0 L-4,-0.9 L-4,0.9 Z" fill="#222"/><line x1="0.3" y1="-1.6" x2="0.3" y2="1.6" stroke="#666" stroke-width="0.7"/></g>
<text transform="translate(633.50,583.50) rotate(-90.00) scale(0.955,1)" x="0" y="4.80" text-anchor="middle" class="ts" font-size="13.4" fill="#0a0a0a" stroke="#0a0a0a" stroke-width="0.22">380 [15&quot;]</text>
<line x1="670.50" y1="297.20" x2="670.50" y2="468.00" stroke="#a8a8a8" stroke-width="1" />
<line x1="670.50" y1="554.00" x2="670.50" y2="723.80" stroke="#a8a8a8" stroke-width="1" />
<g transform="translate(670.50,297.20) rotate(-90.00)"><path d="M0,0 L-4,-0.9 L-4,0.9 Z" fill="#222"/><line x1="0.3" y1="-1.6" x2="0.3" y2="1.6" stroke="#666" stroke-width="0.7"/></g>
<g transform="translate(670.50,723.80) rotate(90.00)"><path d="M0,0 L-4,-0.9 L-4,0.9 Z" fill="#222"/><line x1="0.3" y1="-1.6" x2="0.3" y2="1.6" stroke="#666" stroke-width="0.7"/></g>
<text transform="translate(674.50,553.40) rotate(-90.00) scale(0.925,1)" x="0" y="0.00" text-anchor="start" class="ts" font-size="13.4" fill="#0a0a0a" stroke="#0a0a0a" stroke-width="0.25">4990</text>
<text transform="translate(674.50,553.20) rotate(-90.00)" x="30.15 33.92 39.33 45.33 51.83 59.99 66.83 74.89 81.55" y="-1.80 0.00 0.00 0.00 0.00 -0.50 0.00 -3.00 -1.80" text-anchor="start" class="tf" font-size="12.3" fill="#1a1a1a" stroke="#1a1a1a" stroke-width="0.1">(1961/2&quot;)</text>
</g>
</svg>
</body></html>
